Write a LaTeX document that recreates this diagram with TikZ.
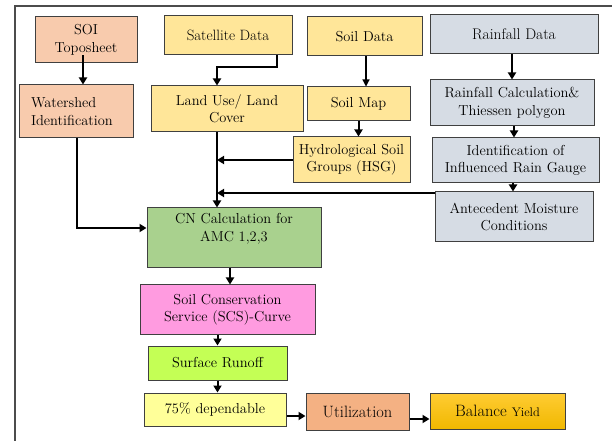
\documentclass[tikz,border=0pt]{standalone}
\usetikzlibrary{arrows.meta}
\newcommand\tnr{\rmfamily}
\definecolor{cpeach}{HTML}{F8CBAD}
\definecolor{cyellow}{HTML}{FFE699}
\definecolor{cgrey}{HTML}{D6DCE4}
\definecolor{cgreen}{HTML}{A9D18E}
\definecolor{cpink}{HTML}{FF9BE0}
\definecolor{clime}{HTML}{C4FF55}
\definecolor{clight}{HTML}{FFFF99}
\definecolor{corange}{HTML}{F4B183}
\definecolor{cgoldtop}{HTML}{FFCC33}
\definecolor{cgoldbot}{HTML}{F0B800}
\begin{document}
\begin{tikzpicture}[x=1bp,y=-1bp,
  box/.style={draw=black!75, line width=1bp, align=center, inner sep=0pt,
    font=\tnr\fontsize{14.5}{17.5}\selectfont},
  bigtext/.style={font=\tnr\fontsize{16.5}{20}\selectfont},
  arr/.style={line width=2bp, -{Triangle[length=7bp,width=8bp]}},
  arrthin/.style={line width=1.1bp, -{Triangle[length=7bp,width=7bp]}},
]
\useasboundingbox (0,0) rectangle (612,441);
\draw[black!70, line width=1.2bp] (15,441) -- (15,6) -- (612,6);

\node[box, fill=cpeach, minimum width=102bp, minimum height=46bp] (SOI) at (86,40) {SOI\\Toposheet};
\node[box, fill=cyellow, minimum width=128bp, minimum height=39bp, font=\tnr\fontsize{15}{18}\selectfont] (Sat) at (228,35.5) {Satellite Data};
\node[box, fill=cyellow, minimum width=115bp, minimum height=39bp] (SoilData) at (364.5,36.5) {Soil Data};
\node[box, fill=cgrey, minimum width=168bp, minimum height=39bp, font=\tnr\fontsize{15.5}{18}\selectfont] (Rain) at (514,34.5) {Rainfall Data};

\node[box, fill=cpeach, minimum width=113bp, minimum height=53bp, text width=91bp, align=left] (Watershed) at (76.5,111.5) {Watershed\\Identification};
\node[box, fill=cyellow, minimum width=152bp, minimum height=46bp] (LULC) at (227,109) {Land Use/ Land\\Cover};
\node[box, fill=cyellow, minimum width=103bp, minimum height=34bp] (SoilMap) at (358.5,104) {Soil Map};
\node[box, fill=cgrey, minimum width=164bp, minimum height=46bp] (RainCalc) at (512,103) {Rainfall Calculation\&\\Thiessen polygon};

\node[box, fill=cyellow, minimum width=117bp, minimum height=46bp] (HSG) at (351.5,160) {Hydrological Soil\\Groups (HSG)};
\node[box, fill=cgrey, minimum width=167bp, minimum height=45bp] (Ident) at (515.5,160.5) {Identification of\\Influenced Rain Gauge};
\node[box, fill=cgrey, minimum width=158bp, minimum height=50bp] (AMC) at (514,217) {Antecedent Moisture\\Conditions};

\node[box, fill=cgreen, minimum width=174bp, minimum height=59bp] (CN) at (234,237.5) {CN Calculation for\\AMC 1,2,3\\[3bp]};
\node[box, fill=cpink, minimum width=175bp, minimum height=49bp] (SCS) at (227.5,309.5) {Soil Conservation\\Service (SCS)-Curve};
\node[box, fill=clime, minimum width=139bp, minimum height=34bp] (Surf) at (217.5,363) {Surface Runoff};
\node[box, fill=clight, minimum width=142bp, minimum height=33bp] (Dep) at (215,409.5) {75\% dependable};
\node[box, fill=corange, minimum width=103bp, minimum height=37bp, bigtext] (Util) at (357.5,411.5) {Utilization};
\node[box, top color=cgoldtop, bottom color=cgoldbot, minimum width=135bp, minimum height=36bp, bigtext] (Bal) at (497.5,411) {Balance {\fontsize{12.5}{15}\selectfont Yield}};

% connectors
\draw[arr] ([xshift=-3bp,yshift=8bp]SOI.south) -- ([xshift=-3bp]SOI.south |- Watershed.north);
\draw[arr] ([xshift=49bp]Sat.south) -- ++(0,12) -| ([xshift=-10bp]LULC.north);
\draw[arrthin] ([xshift=1.5bp]SoilData.south) -- ([xshift=1.5bp]SoilData.south |- SoilMap.north);
\draw[arr] (SoilMap.south) -- (SoilMap.south |- HSG.north);
\draw[arr] (RainCalc.north |- Rain.south) -- (RainCalc.north);
\draw[arr] ([xshift=2bp]RainCalc.south) -- ([xshift=2bp]RainCalc.south |- Ident.north);
\draw[arr] ([xshift=-1bp]AMC.north |- Ident.south) -- ([xshift=-1bp]AMC.north);

\coordinate (trunk) at ([xshift=-10bp]LULC.south);
\draw[arr] (trunk) -- (trunk |- CN.north);
\draw[arr] (HSG.west) -- (HSG.west -| trunk);
\coordinate (amcin) at ([yshift=-1.5bp]AMC.north west);
\draw[arr] (amcin) -- (amcin -| trunk);
\draw[arr] (Watershed.south) |- ([yshift=9.5bp]CN.west);

\draw[arr] ([xshift=-4bp]CN.south) -- ([xshift=-4bp]CN.south |- SCS.north);
\draw[arr] (Surf.north |- SCS.south) -- (Surf.north);
\draw[arr] (Surf.south) -- (Surf.south |- Dep.north);
\coordinate (d1) at ([yshift=-6.5bp]Dep.east);
\draw[arr] (d1) -- (d1 -| Util.west);
\coordinate (u1) at ([yshift=-7.5bp]Util.east);
\draw[arr] (u1) -- (u1 -| Bal.west);
\end{tikzpicture}
\end{document}
